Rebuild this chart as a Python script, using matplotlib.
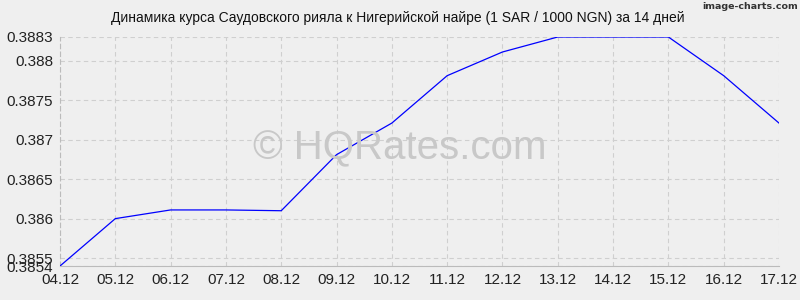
import matplotlib
matplotlib.use("Agg")
import matplotlib.pyplot as plt

plt.rcParams['font.family'] = ['Liberation Sans', 'DejaVu Sans']

dates = ["04.12", "05.12", "06.12", "07.12", "08.12", "09.12", "10.12",
         "11.12", "12.12", "13.12", "14.12", "15.12", "16.12", "17.12"]
rates = [0.3854, 0.3860, 0.38611, 0.38611, 0.38610, 0.38681, 0.38721,
         0.38781, 0.38811, 0.3883, 0.3883, 0.3883, 0.38781, 0.38721]
yticks = [0.3854, 0.3855, 0.386, 0.3865, 0.387, 0.3875, 0.388, 0.3883]
ytick_labels = ["0.3854", "0.3855", "0.386", "0.3865", "0.387", "0.3875", "0.388", "0.3883"]

bg = "#efefef"
fig = plt.figure(figsize=(8, 3), dpi=100, facecolor=bg)
ax = fig.add_axes([0.075, 0.1133, 0.89875, 0.7634])
ax.set_facecolor(bg)

x = list(range(len(dates)))
ax.plot(x, rates, color="#0000ff", linewidth=0.9, zorder=3)

ax.set_xlim(0, len(dates) - 1)
ax.set_ylim(yticks[0], yticks[-1])
ax.set_xticks(x)
ax.set_xticklabels(dates, fontsize=11)
ax.set_yticks(yticks)
ax.set_yticklabels(ytick_labels, fontsize=11)
ax.tick_params(length=0, pad=5, colors="#222222")

ax.grid(True, color="#cfcfcf", linestyle=(0, (4, 3)), linewidth=0.8)
for s in ["top", "right"]:
    ax.spines[s].set_visible(False)
ax.spines["left"].set_color("#bbbbbb")
ax.spines["bottom"].set_color("#bbbbbb")
ax.spines["left"].set_linestyle((0, (4, 3)))

fig.text(0.4975, 0.94, "Динамика курса Саудовского рияла к Нигерийской найре (1 SAR / 1000 NGN) за 14 дней",
         ha="center", va="center", fontsize=10, color="#111111")
fig.text(0.997, 0.978, "image-charts.com", ha="right", va="center", fontsize=6.8,
         color="#333333", family="DejaVu Sans Condensed", weight="bold")
fig.text(0.5, 0.505, "© HQRates.com", ha="center", va="center",
         fontsize=29, color="#c8c8c8", zorder=1)

fig.savefig("out.png", dpi=100, facecolor=bg)
